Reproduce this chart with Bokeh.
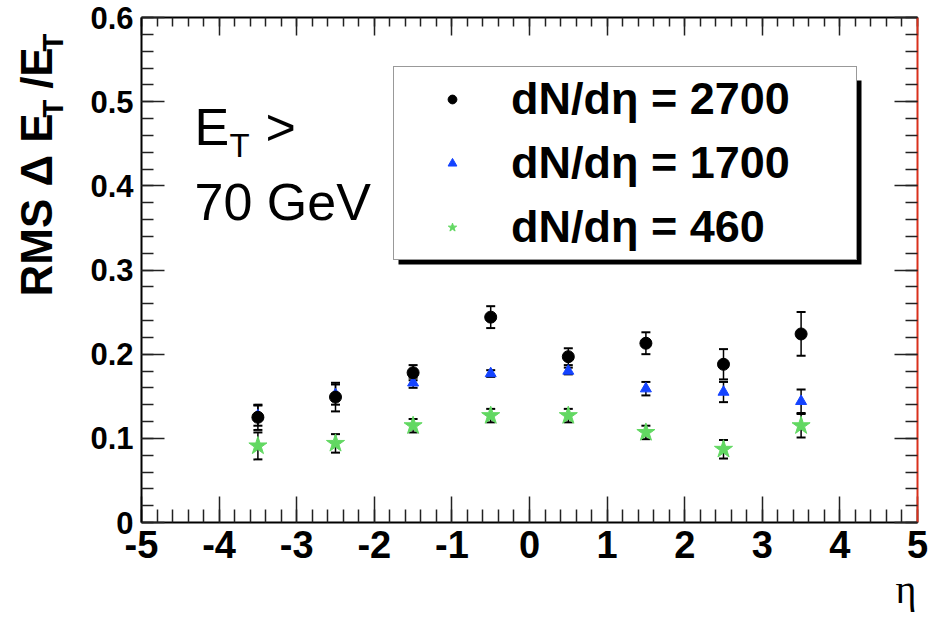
from math import pi

from bokeh.embed import file_html
from bokeh.models import (BoxAnnotation, ColumnDataSource, FixedTicker, Label, Legend,
                          LegendItem, LinearAxis, Range1d, TeeHead, Whisker)
from bokeh.plotting import figure
from bokeh.resources import INLINE

# Pseudorapidity bin centres
eta = [-3.5, -2.5, -1.5, -0.5, 0.5, 1.5, 2.5, 3.5]

# RMS of the relative E_T resolution and its error, per multiplicity
rms_2700 = [0.125, 0.149, 0.178, 0.244, 0.197, 0.213, 0.188, 0.224]
err_2700 = [0.015, 0.017, 0.009, 0.013, 0.010, 0.013, 0.018, 0.026]

rms_1700 = [0.127, 0.152, 0.166, 0.177, 0.180, 0.159, 0.155, 0.144]
err_1700 = [0.012, 0.012, 0.006, 0.004, 0.004, 0.008, 0.012, 0.014]

rms_460 = [0.091, 0.094, 0.115, 0.127, 0.127, 0.107, 0.087, 0.115]
err_460 = [0.016, 0.011, 0.008, 0.008, 0.008, 0.008, 0.011, 0.014]

labels = ["dN/dη = 2700", "dN/dη = 1700", "dN/dη = 460"]

# axis tick positions
x_major = list(range(-5, 6))
x_minor = [round(-5 + 0.2 * i, 1) for i in range(51)]
y_major = [round(0.1 * i, 1) for i in range(7)]
y_minor = [round(0.02 * i, 2) for i in range(31)]

SANS = "Liberation Sans"
SERIF = "Liberation Serif"
NBSP = "\u00a0"

W, H = 936, 622
LEFT, RIGHT, TOP, BOTTOM = 141, 19, 17, 100
X0, X1, Y0, Y1 = -5, 5, 0, 0.6

p = figure(width=W, height=H, output_backend="svg", toolbar_location=None,
           x_range=Range1d(X0, X1), y_range=Range1d(Y0, Y1),
           x_axis_location=None, y_axis_location=None,
           min_border_left=LEFT, min_border_right=RIGHT, min_border_top=TOP,
           min_border_bottom=BOTTOM)
p.outline_line_color = None
p.grid.visible = False
p.background_fill_color = "white"
p.border_fill_color = "white"


def to_data(cx, cy):
    """Canvas pixel position -> data coordinates of the frame."""
    fw = W - LEFT - RIGHT
    fh = H - TOP - BOTTOM
    return (X0 + (cx - LEFT) * (X1 - X0) / fw,
            Y0 + (H - BOTTOM - cy) * (Y1 - Y0) / fh)


def frame_axis(major, minor, tick_len, minor_len, font_size=None, standoff=0,
               line_color="black"):
    ax = LinearAxis(ticker=FixedTicker(ticks=major, minor_ticks=minor))
    ax.axis_line_color = line_color
    ax.axis_line_width = 2
    ax.major_tick_in = tick_len
    ax.major_tick_out = 0
    ax.minor_tick_in = minor_len
    ax.minor_tick_out = 0
    ax.major_tick_line_color = "#222222"
    ax.minor_tick_line_color = "#222222"
    ax.major_tick_line_width = 1.5
    ax.minor_tick_line_width = 1.5
    if font_size is None:
        ax.major_label_text_font_size = "0px"
        ax.major_label_standoff = 0
    else:
        ax.major_label_text_font = SANS
        ax.major_label_text_font_style = "bold"
        ax.major_label_text_font_size = font_size
        ax.major_label_text_color = "black"
        ax.major_label_standoff = standoff
    return ax


xb = frame_axis(x_major, x_minor, 26, 13, "38px", 8)
xb.major_label_overrides = {v: str(v) for v in x_major}
p.add_layout(xb, "below")
yl = frame_axis(y_major, y_minor, 23, 12, "31px", 8)
yl.major_label_overrides = {0: "0"}
p.add_layout(yl, "left")
p.add_layout(frame_axis(x_major, x_minor, 18, 9), "above")
p.add_layout(frame_axis(y_major, y_minor, 23, 12, line_color="#d9301c"), "right")


def series(y, err):
    return ColumnDataSource(dict(
        x=eta, y=y,
        lower=[v - e for v, e in zip(y, err)],
        upper=[v + e for v, e in zip(y, err)],
    ))


styles = [
    (rms_460, err_460, "star", 19, "#62d862"),
    (rms_1700, err_1700, "triangle", 11, "#1443ff"),
    (rms_2700, err_2700, "circle", 12, "black"),
]
renderers = []
for y, err, marker, size, color in styles:
    src = series(y, err)
    p.add_layout(Whisker(base="x", upper="upper", lower="lower", source=src,
                         dimension="height", line_color="black", line_width=1.5,
                         upper_head=TeeHead(size=9, line_width=2, line_color="black"),
                         lower_head=TeeHead(size=9, line_width=2, line_color="black")))
    renderers.append(p.scatter("x", "y", source=src, marker=marker, size=size,
                               fill_color=color, line_color=color))
r460, r1700, r2700 = renderers

# drop shadow behind the legend box
p.add_layout(BoxAnnotation(left=257, right=720, top=442, bottom=258,
                           left_units="screen", right_units="screen",
                           top_units="screen", bottom_units="screen",
                           fill_color="black", fill_alpha=1, line_color=None,
                           level="annotation"))

legend = Legend(items=[LegendItem(label=labels[0], renderers=[r2700]),
                       LegendItem(label=labels[1], renderers=[r1700]),
                       LegendItem(label=labels[2], renderers=[r460])],
                location=(252, 262), margin=0, padding=6, spacing=12,
                glyph_width=104, glyph_height=22, label_height=42,
                label_width=339, label_standoff=7,
                label_text_font=SANS, label_text_font_style="bold",
                label_text_font_size="45px", label_text_color="black",
                border_line_color="#333333", border_line_width=1.5,
                background_fill_color="white", background_fill_alpha=1)
p.add_layout(legend, "center")


def text(cx, cy, s, size, style="normal", font=SANS, angle=0, align="left",
         place="center"):
    x, y = to_data(cx, cy)
    p.add_layout(Label(x=x, y=y, text=s, angle=angle, text_align=align,
                       text_baseline="alphabetic", text_font=font,
                       text_font_style=style, text_font_size=size,
                       text_color="black"), place)


# y-axis title, rotated: RMS Δ E_T/E_T (main line, then the two subscripts)
text(36, 296, "RMS Δ E" + NBSP * 2 + "/E", "44px", "bold", angle=pi / 2,
     place="left")
text(52, 117, "T" + NBSP * 6 + "T", "29px", "bold", angle=pi / 2, place="left")

# selection annotation: E_T > 70 GeV
text(194, 126, "E", "52px")
text(229, 145, "T", "33px")
text(265, 126, ">", "52px")
text(194, 201, "70 GeV", "52px")

# x-axis title
text(916, 589, "η", "40px", font=SERIF, align="right", place="below")

html = file_html(p, INLINE)
with open("out.html", "w") as f:
    f.write(html)
